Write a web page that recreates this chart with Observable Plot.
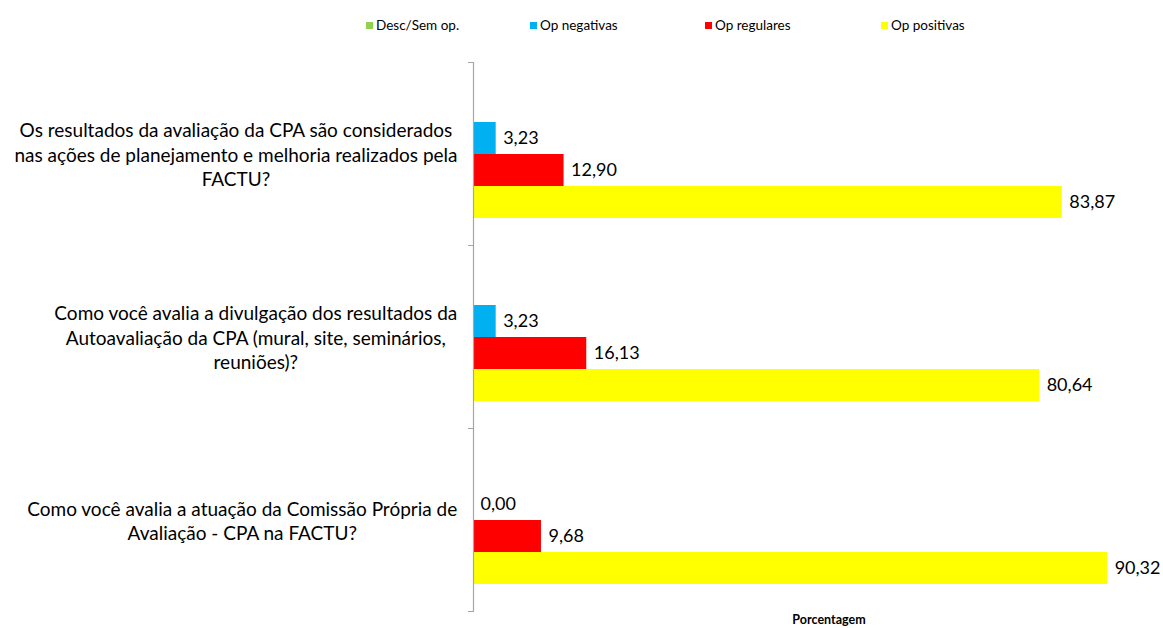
<!DOCTYPE html>
<html>
<head>
<meta charset="utf-8">
<script src="https://cdn.jsdelivr.net/npm/d3@7"></script>
<script src="https://cdn.jsdelivr.net/npm/@observablehq/plot@0.6"></script>
<style>
  html, body { margin: 0; padding: 0; background: #fff; }
  body { position: relative; width: 1163px; height: 628px; overflow: hidden; font-family: Lato, "Open Sans", sans-serif; }
  #legend { position: relative; height: 44px; font-size: 13.5px; color: #000; }
  .li { position: absolute; top: 17px; display: flex; align-items: center; white-space: nowrap; }
  .sw { width: 7px; height: 7px; margin-right: 3px; }
  #caption { position: absolute; left: 0; top: 612px; width: 1163px; font-size: 12.5px; font-weight: bold; text-align: center; padding-left: 495px; box-sizing: border-box; line-height: 15px; }
</style>
</head>
<body>
<div id="legend"></div>
<div id="chart"></div>
<div id="caption"></div>
<script>
const questions = [
  "Os resultados da avaliação da CPA são considerados\nnas ações de planejamento e melhoria realizados pela\nFACTU?",
  "Como você avalia a divulgação dos resultados da\nAutoavaliação da CPA (mural, site, seminários,\nreuniões)?",
  "Como você avalia a atuação da Comissão Própria de\nAvaliação - CPA na FACTU?"
];
const series = ["Desc/Sem op.", "Op negativas", "Op regulares", "Op positivas"];
const descValues = [null, null, null];
const negValues = [3.23, 3.23, 0.00];
const regValues = [12.90, 16.13, 9.68];
const posValues = [83.87, 80.64, 90.32];
const colors = ["#92D050", "#00B0F0", "#FF0000", "#FFFF00"];
const xLabel = "Porcentagem";

const allValues = [descValues, negValues, regValues, posValues];
const data = [];
questions.forEach((q, i) => {
  series.forEach((s, j) => {
    data.push({question: q, series: s, value: allValues[j][i]});
  });
});
const labelled = data.filter(d => d.value !== null);

// legend
const legendLeft = [366, 530, 705, 881];
const legend = document.getElementById("legend");
series.forEach((s, j) => {
  const item = document.createElement("div");
  item.className = "li";
  item.style.left = legendLeft[j] + "px";
  item.innerHTML = `<span class="sw" style="background:${colors[j]}"></span><span>${s}</span>`;
  legend.appendChild(item);
});
document.getElementById("caption").textContent = xLabel;

const FONT = "Lato, 'Open Sans', sans-serif";
const QFS = 19;
const VFS = 18;
const width = 1163, marginLeft = 473, marginRight = 23;
const plotW = width - marginLeft - marginRight;

// measure text for centred multi-line labels
const ctx = document.createElement("canvas").getContext("2d");
ctx.font = `${QFS}px Lato`;
const labelRight = 457;

const labelMarks = questions.map((q) => {
  const w = d3.max(q.split("\n"), l => ctx.measureText(l).width);
  const cx = labelRight - w / 2;
  return Plot.text([q], {
    fy: d => d,
    text: d => d,
    frameAnchor: "left",
    dx: cx - marginLeft,
    textAnchor: "middle",
    lineAnchor: "middle",
    lineHeight: 24.5 / QFS,
    fontSize: QFS,
    fontFamily: FONT,
    fill: "#000"
  });
});

const fmt = v => v.toFixed(2).replace(".", ",");

const chart = Plot.plot({
  width,
  height: 570,
  marginLeft,
  marginRight,
  marginTop: 18,
  marginBottom: 3,
  style: {fontFamily: FONT, background: "#fff"},
  x: {domain: [0, 95], axis: null},
  y: {domain: series, paddingInner: 0, paddingOuter: 0.78, axis: null},
  fy: {domain: questions, padding: 0, axis: null},
  color: {domain: series, range: colors},
  marks: [
    Plot.barX(labelled, {x: "value", y: "series", fy: "question", fill: "series"}),
    Plot.text(labelled, {
      x: "value", y: "series", fy: "question",
      text: d => fmt(d.value),
      dx: 7, textAnchor: "start", fontSize: VFS, fontFamily: FONT, fill: "#000"
    }),
    Plot.ruleX([0], {stroke: "#A6A6A6", strokeWidth: 1.2, facet: false}),
    Plot.frame({anchor: "top", stroke: "#A6A6A6", insetLeft: -5, insetRight: plotW}),
    Plot.frame({anchor: "bottom", stroke: "#A6A6A6", insetLeft: -5, insetRight: plotW}),
    ...labelMarks
  ]
});
document.getElementById("chart").appendChild(chart);
</script>
</body>
</html>
